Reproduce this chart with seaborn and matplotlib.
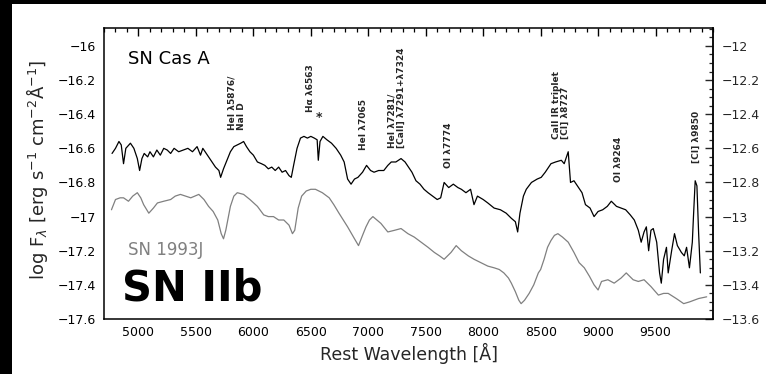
import numpy as np
import pandas as pd
import matplotlib
matplotlib.use("Agg")
import matplotlib.pyplot as plt
from matplotlib.patches import Rectangle
from matplotlib.ticker import MultipleLocator, FuncFormatter
import seaborn as sns

# ---------------- data ----------------
casa_wave = [4770, 4800, 4830, 4850, 4870, 4890, 4930, 4960, 4990, 5010, 5030, 5050, 5080, 5100,
             5130, 5160, 5190, 5220, 5250, 5280, 5310, 5350, 5390, 5430, 5470, 5510, 5540, 5560,
             5600, 5640, 5670, 5700, 5715, 5740, 5770, 5800, 5830, 5860, 5890, 5915, 5940, 5970,
             6000, 6035, 6070, 6100, 6130, 6160, 6190, 6220, 6250, 6280, 6310, 6330, 6350, 6380,
             6410, 6440, 6470, 6500, 6530, 6555, 6565, 6580, 6605, 6640, 6680, 6720, 6760, 6790,
             6820, 6850, 6880, 6910, 6950, 6985, 7020, 7050, 7090, 7135, 7170, 7200, 7240, 7285,
             7320, 7350, 7380, 7415, 7450, 7485, 7520, 7560, 7600, 7630, 7660, 7700, 7740, 7780,
             7810, 7850, 7890, 7920, 7950, 8000, 8040, 8095, 8150, 8200, 8245, 8280, 8300, 8320,
             8350, 8375, 8420, 8470, 8505, 8540, 8590, 8630, 8680, 8705, 8740, 8760, 8790, 8820,
             8860, 8890, 8930, 8965, 9000, 9040, 9080, 9115, 9160, 9200, 9240, 9280, 9315, 9350,
             9375, 9400, 9420, 9440, 9460, 9480, 9510, 9535, 9550, 9570, 9595, 9610, 9640, 9665,
             9690, 9725, 9750, 9770, 9795, 9820, 9830, 9845, 9860, 9875, 9890]
casa_flux = [-16.63, -16.60, -16.56, -16.58, -16.69, -16.60, -16.57, -16.60, -16.66, -16.73, -16.66,
             -16.63, -16.65, -16.62, -16.65, -16.61, -16.64, -16.60, -16.61, -16.63, -16.60, -16.62,
             -16.61, -16.60, -16.62, -16.59, -16.64, -16.60, -16.64, -16.68, -16.71, -16.73, -16.77,
             -16.72, -16.67, -16.62, -16.59, -16.58, -16.57, -16.56, -16.59, -16.62, -16.64, -16.68,
             -16.69, -16.70, -16.72, -16.71, -16.73, -16.71, -16.74, -16.73, -16.76, -16.77, -16.70,
             -16.60, -16.54, -16.53, -16.54, -16.53, -16.54, -16.55, -16.67, -16.56, -16.53, -16.55,
             -16.57, -16.60, -16.64, -16.68, -16.78, -16.81, -16.78, -16.77, -16.74, -16.70, -16.73,
             -16.74, -16.73, -16.73, -16.70, -16.68, -16.68, -16.66, -16.68, -16.71, -16.74, -16.79,
             -16.81, -16.84, -16.86, -16.88, -16.90, -16.89, -16.80, -16.83, -16.81, -16.83, -16.84,
             -16.86, -16.84, -16.93, -16.88, -16.90, -16.92, -16.95, -16.96, -16.98, -17.01, -17.03,
             -17.09, -16.98, -16.88, -16.84, -16.80, -16.78, -16.77, -16.74, -16.69, -16.68, -16.67,
             -16.69, -16.62, -16.80, -16.79, -16.82, -16.86, -16.93, -16.95, -17.00, -16.97, -16.96,
             -16.94, -16.91, -16.94, -16.95, -16.96, -16.99, -17.02, -17.08, -17.15, -17.09, -17.06,
             -17.20, -17.08, -17.07, -17.15, -17.33, -17.39, -17.25, -17.18, -17.33, -17.20, -17.10,
             -17.17, -17.21, -17.23, -17.18, -17.30, -17.15, -17.00, -16.79, -16.82, -17.10, -17.33]

j93_wave = [4765, 4800, 4840, 4870, 4913, 4950, 4990, 5020, 5045, 5090, 5130, 5165, 5220, 5280,
            5320, 5365, 5410, 5455, 5525, 5570, 5610, 5650, 5690, 5720, 5740, 5760, 5800, 5830,
            5860, 5915, 5970, 6035, 6090, 6130, 6175, 6220, 6265, 6310, 6340, 6360, 6390, 6420,
            6460, 6500, 6540, 6600, 6660, 6700, 6745, 6820, 6880, 6915, 6950, 6980, 7010, 7040,
            7075, 7110, 7170, 7230, 7285, 7345, 7400, 7460, 7520, 7575, 7620, 7660, 7690, 7720,
            7765, 7810, 7870, 7920, 7980, 8040, 8095, 8140, 8180, 8220, 8245, 8280, 8310, 8330,
            8360, 8400, 8440, 8480, 8500, 8530, 8560, 8590, 8620, 8650, 8690, 8740, 8790, 8835,
            8880, 8925, 8965, 9000, 9030, 9085, 9140, 9200, 9245, 9305, 9350, 9400, 9460, 9525,
            9570, 9610, 9680, 9745, 9795, 9875, 9945]
j93_flux = [-16.96, -16.90, -16.89, -16.89, -16.91, -16.88, -16.86, -16.89, -16.93, -16.98, -16.95,
            -16.92, -16.91, -16.90, -16.88, -16.87, -16.88, -16.89, -16.87, -16.90, -16.94, -16.97,
            -17.02, -17.10, -17.13, -17.08, -16.94, -16.88, -16.86, -16.87, -16.90, -16.94, -16.99,
            -17.00, -17.00, -17.02, -17.02, -17.05, -17.10, -17.08, -16.95, -16.88, -16.85, -16.84,
            -16.84, -16.86, -16.89, -16.93, -16.98, -17.06, -17.13, -17.17, -17.11, -17.06, -17.02,
            -17.00, -17.02, -17.04, -17.09, -17.08, -17.07, -17.10, -17.12, -17.15, -17.18, -17.21,
            -17.23, -17.25, -17.23, -17.21, -17.17, -17.20, -17.23, -17.25, -17.27, -17.29, -17.30,
            -17.31, -17.33, -17.36, -17.39, -17.44, -17.49, -17.51, -17.49, -17.45, -17.40, -17.33,
            -17.31, -17.25, -17.18, -17.14, -17.11, -17.10, -17.12, -17.15, -17.21, -17.27, -17.30,
            -17.35, -17.40, -17.43, -17.38, -17.37, -17.39, -17.36, -17.33, -17.37, -17.38, -17.37,
            -17.41, -17.46, -17.45, -17.45, -17.48, -17.51, -17.50, -17.48, -17.47]

line_labels = ["HeI \u03bb5876/\nNaI D", "H\u03b1 \u03bb6563", "HeI \u03bb7065",
               "HeI \u03bb7281/\n[CaII] \u03bb7291+\u03bb7324", "OI \u03bb7774",
               "CaII IR triplet\n[CI] \u03bb8727", "OI \u03bb9264", "[CI] \u03bb9850"]
line_label_wave = [5854, 6500, 6962, 7249, 7694, 8679, 9176, 9856]
line_label_flux = [-16.49, -16.387, -16.61, -16.60, -16.715, -16.545, -16.80, -16.686]

x_ticks = [5000, 5500, 6000, 6500, 7000, 7500, 8000, 8500, 9000, 9500]
y_ticks = [-17.6, -17.4, -17.2, -17.0, -16.8, -16.6, -16.4, -16.2, -16.0]
y2_ticks = [-13.6, -13.4, -13.2, -13.0, -12.8, -12.6, -12.4, -12.2, -12.0]

# ---------------- figure ----------------
sns.set_style("white")
plt.rcParams["font.family"] = ["DejaVu Sans"]
plt.rcParams["mathtext.fontset"] = "dejavusans"

fig = plt.figure(figsize=(7.66, 3.74), dpi=100)
fig.patch.set_facecolor("white")
ax = fig.add_axes([104 / 766, 1 - 319 / 374, (713 - 104) / 766, (319 - 28) / 374])

casa = pd.DataFrame({"wave": casa_wave, "flux": casa_flux})
j93 = pd.DataFrame({"wave": j93_wave, "flux": j93_flux})
sns.lineplot(data=casa, x="wave", y="flux", ax=ax, color="black", lw=0.9,
             estimator=None, sort=False, legend=False)
sns.lineplot(data=j93, x="wave", y="flux", ax=ax, color="#808080", lw=0.9,
             estimator=None, sort=False, legend=False)

ax.set_xlim(4700, 10000)
ax.set_ylim(-17.6, -15.895)


def fmt(v, pos=None):
    s = f"{v:.1f}"
    if s.endswith(".0"):
        s = s[:-2]
    return s.replace("-", "\u2212")


ax.set_xticks(x_ticks)
ax.xaxis.set_minor_locator(MultipleLocator(100))
ax.set_yticks(y_ticks)
ax.yaxis.set_minor_locator(MultipleLocator(0.05))
ax.yaxis.set_major_formatter(FuncFormatter(fmt))
ax.tick_params(axis="both", which="both", direction="in", top=True, right=False,
               labelsize=9, colors="black")
ax.tick_params(which="major", length=6, width=1.0, pad=5)
ax.tick_params(which="minor", length=3, width=0.9)
ax.tick_params(axis="y", pad=6)
for sp in ax.spines.values():
    sp.set_color("black")
    sp.set_linewidth(1.1)

sec = ax.secondary_yaxis("right", functions=(lambda y: y + 4, lambda y: y - 4))
sec.set_yticks(y2_ticks)
sec.yaxis.set_minor_locator(MultipleLocator(0.05))
sec.yaxis.set_major_formatter(FuncFormatter(fmt))
sec.tick_params(which="both", direction="in", labelsize=9)
sec.tick_params(which="major", length=6, width=1.0, pad=6)
sec.tick_params(which="minor", length=3, width=0.9)
sec.spines["right"].set_linewidth(1.1)

ax.set_xlabel("Rest Wavelength [\u00c5]", fontsize=12.5, labelpad=3)
ax.set_ylabel("")
fig.text(37 / 766, 1 - 170 / 374,
         r"log F$_\lambda$ [erg s$^{-1}$ cm$^{-2}$$\mathrm{\AA}^{-1}$]",
         rotation=90, fontsize=13, ha="center", va="center")

for lab, wv, fl in zip(line_labels, line_label_wave, line_label_flux):
    ax.text(wv, fl, lab, rotation=90, fontsize=6.5, fontweight="bold", ha="center",
            va="bottom", multialignment="left", linespacing=1.0)
ax.text(6570, -16.42, "*", fontsize=9, ha="center", va="center", fontweight="bold")

ax.text(4913, -16.076, "SN Cas A", fontsize=13, ha="left", va="center", color="black")
ax.text(4913, -17.196, "SN 1993J", fontsize=12, ha="left", va="center", color="#808080")
ax.text(4860, -17.424, "SN IIb", fontsize=30, fontweight="bold", ha="left",
        va="center", color="black")

# black frame pieces at top and left edge of the reference image
fig.patches.append(Rectangle((0, 1 - 4 / 374), 1, 4 / 374, transform=fig.transFigure,
                             facecolor="black", edgecolor="none", zorder=10))
fig.patches.append(Rectangle((0, 0), 12 / 766, 1, transform=fig.transFigure,
                             facecolor="black", edgecolor="none", zorder=10))

fig.savefig("out.png", dpi=100, facecolor="white")
